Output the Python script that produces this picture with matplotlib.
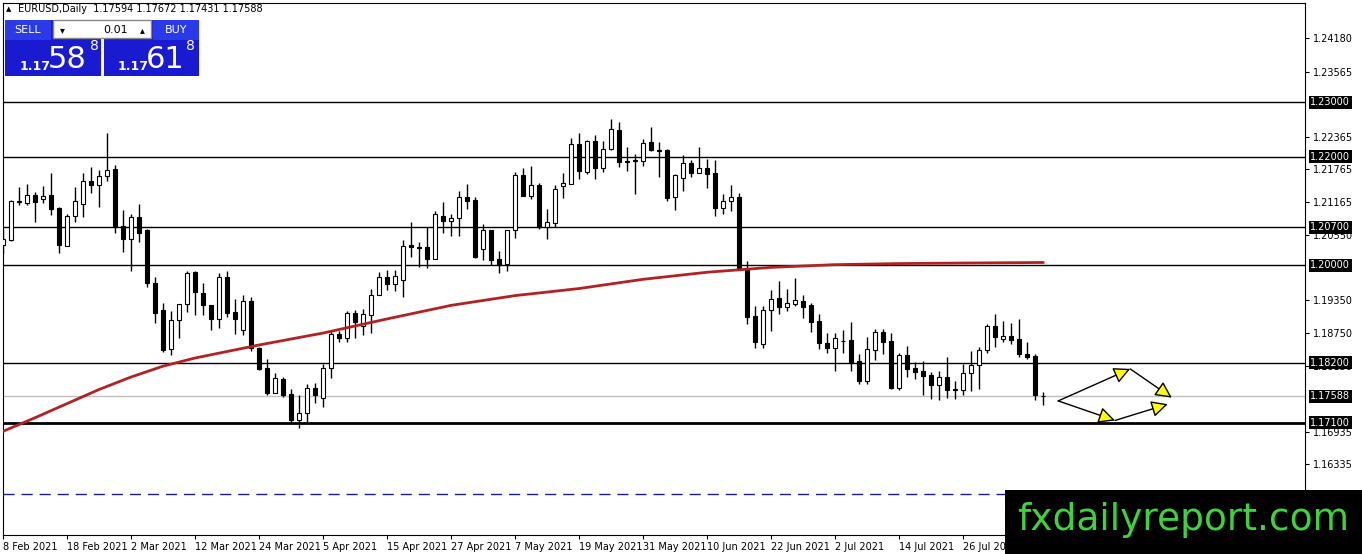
import numpy as np
import pandas as pd
import matplotlib
matplotlib.use("Agg")
import matplotlib.pyplot as plt
from matplotlib.patches import Rectangle

# daily EURUSD
opens = [1.2038, 1.2047, 1.2117, 1.2115, 1.2130, 1.2122, 1.2130, 1.2106, 1.2036, 1.2091,
         1.2113, 1.2155, 1.2148, 1.2164, 1.2177, 1.2073, 1.2049, 1.2089, 1.2064, 1.1968,
         1.1917, 1.1846, 1.1899, 1.1928, 1.1987, 1.1948, 1.1926, 1.1901, 1.1979, 1.1913,
         1.1880, 1.1934, 1.1848, 1.1811, 1.1765, 1.1791, 1.1763, 1.1714, 1.1728, 1.1774,
         1.1756, 1.1811, 1.1873, 1.1866, 1.1912, 1.1888, 1.1908, 1.1946, 1.1978, 1.1965,
         1.1972, 1.2038, 1.2033, 1.2034, 1.2012, 1.2091, 1.2082, 1.2087, 1.2126, 1.2121,
         1.2029, 1.2064, 1.2012, 1.2003, 1.2064, 1.2166, 1.2128, 1.2148, 1.2071, 1.2078,
         1.2146, 1.2150, 1.2223, 1.2172, 1.2229, 1.2179, 1.2214, 1.2249, 1.2192, 1.2192,
         1.2192, 1.2227, 1.2212, 1.2212, 1.2126, 1.2161, 1.2188, 1.2170, 1.2179, 1.2170,
         1.2106, 1.2119, 1.2126, 1.1992, 1.1906, 1.1855, 1.1917, 1.1939, 1.1923, 1.1928,
         1.1934, 1.1926, 1.1897, 1.1857, 1.1848, 1.1860, 1.1862, 1.1824, 1.1787, 1.1844,
         1.1877, 1.1860, 1.1774, 1.1835, 1.1811, 1.1805, 1.1798, 1.1780, 1.1794, 1.1771,
         1.1771, 1.1802, 1.1816, 1.1844, 1.1888, 1.1864, 1.1870, 1.1864, 1.1837, 1.1833,
         1.17594]
highs = [1.2066, 1.2121, 1.2144, 1.2150, 1.2135, 1.2146, 1.2170, 1.2108, 1.2095, 1.2144,
         1.2170, 1.2181, 1.2175, 1.2243, 1.2185, 1.2102, 1.2095, 1.2113, 1.2067, 1.1978,
         1.1930, 1.1915, 1.1929, 1.1990, 1.1989, 1.1967, 1.1927, 1.1985, 1.1989, 1.1937,
         1.1946, 1.1941, 1.1849, 1.1827, 1.1802, 1.1794, 1.1772, 1.1760, 1.1782, 1.1783,
         1.1818, 1.1879, 1.1879, 1.1915, 1.1917, 1.1919, 1.1956, 1.1987, 1.1992, 1.1992,
         1.2047, 1.2080, 1.2043, 1.2071, 1.2100, 1.2117, 1.2095, 1.2137, 1.2150, 1.2126,
         1.2076, 1.2065, 1.2027, 1.2065, 1.2172, 1.2179, 1.2183, 1.2152, 1.2104, 1.2148,
         1.2170, 1.2234, 1.2243, 1.2230, 1.2240, 1.2229, 1.2269, 1.2263, 1.2218, 1.2205,
         1.2232, 1.2254, 1.2227, 1.2214, 1.2168, 1.2203, 1.2194, 1.2218, 1.2196, 1.2194,
         1.2131, 1.2148, 1.2133, 1.2007, 1.1924, 1.1924, 1.1954, 1.1970, 1.1956, 1.1976,
         1.1945, 1.1930, 1.1910, 1.1875, 1.1875, 1.1880, 1.1895, 1.1837, 1.1868, 1.1882,
         1.1882, 1.1875, 1.1838, 1.1851, 1.1822, 1.1824, 1.1804, 1.1805, 1.1831, 1.1787,
         1.1818, 1.1842, 1.1849, 1.1891, 1.1910, 1.1897, 1.1893, 1.1901, 1.1858, 1.1837,
         1.17672]
lows = [1.2020, 1.2045, 1.2110, 1.2111, 1.2080, 1.2115, 1.2093, 1.2022, 1.2035, 1.2080,
        1.2089, 1.2133, 1.2108, 1.2155, 1.2060, 1.2025, 1.1990, 1.2042, 1.1959, 1.1893,
        1.1840, 1.1835, 1.1866, 1.1913, 1.1908, 1.1908, 1.1880, 1.1884, 1.1904, 1.1873,
        1.1871, 1.1842, 1.1807, 1.1760, 1.1764, 1.1758, 1.1710, 1.1701, 1.1710, 1.1747,
        1.1738, 1.1793, 1.1858, 1.1858, 1.1866, 1.1871, 1.1875, 1.1945, 1.1954, 1.1952,
        1.1941, 1.2016, 1.1996, 1.1994, 1.2011, 1.2060, 1.2054, 1.2054, 1.2104, 1.2014,
        1.2010, 1.2000, 1.1985, 1.1990, 1.2051, 1.2127, 1.2122, 1.2066, 1.2049, 1.2071,
        1.2124, 1.2149, 1.2159, 1.2168, 1.2159, 1.2172, 1.2213, 1.2181, 1.2174, 1.2131,
        1.2183, 1.2211, 1.2163, 1.2119, 1.2102, 1.2137, 1.2163, 1.2169, 1.2142, 1.2091,
        1.2095, 1.2100, 1.1991, 1.1891, 1.1848, 1.1848, 1.1879, 1.1910, 1.1915, 1.1924,
        1.1902, 1.1877, 1.1846, 1.1838, 1.1805, 1.1838, 1.1805, 1.1782, 1.1782, 1.1826,
        1.1837, 1.1772, 1.1771, 1.1794, 1.1791, 1.1761, 1.1754, 1.1752, 1.1756, 1.1754,
        1.1761, 1.1769, 1.1772, 1.1838, 1.1849, 1.1858, 1.1855, 1.1831, 1.1827, 1.1752,
        1.17431]
closes = [1.2049, 1.2119, 1.2118, 1.2130, 1.2117, 1.2128, 1.2104, 1.2038, 1.2091, 1.2119,
          1.2155, 1.2148, 1.2164, 1.2175, 1.2073, 1.2049, 1.2089, 1.2060, 1.1967, 1.1912,
          1.1844, 1.1899, 1.1928, 1.1985, 1.1950, 1.1926, 1.1901, 1.1979, 1.1912, 1.1901,
          1.1934, 1.1848, 1.1809, 1.1765, 1.1793, 1.1761, 1.1714, 1.1728, 1.1774, 1.1760,
          1.1811, 1.1873, 1.1866, 1.1912, 1.1895, 1.1910, 1.1946, 1.1978, 1.1965, 1.1981,
          1.2036, 1.2033, 1.2032, 1.2012, 1.2095, 1.2082, 1.2087, 1.2126, 1.2119, 1.2016,
          1.2064, 1.2010, 1.2001, 1.2064, 1.2166, 1.2128, 1.2148, 1.2071, 1.2080, 1.2141,
          1.2152, 1.2223, 1.2174, 1.2229, 1.2179, 1.2214, 1.2251, 1.2190, 1.2191, 1.2193,
          1.2225, 1.2212, 1.2210, 1.2124, 1.2166, 1.2188, 1.2170, 1.2179, 1.2168, 1.2106,
          1.2119, 1.2126, 1.1992, 1.1904, 1.1858, 1.1917, 1.1937, 1.1923, 1.1930, 1.1935,
          1.1923, 1.1895, 1.1857, 1.1848, 1.1866, 1.1861, 1.1822, 1.1787, 1.1846, 1.1877,
          1.1858, 1.1774, 1.1835, 1.1809, 1.1804, 1.1796, 1.1780, 1.1794, 1.1771, 1.1772,
          1.1802, 1.1816, 1.1844, 1.1888, 1.1868, 1.1870, 1.1862, 1.1837, 1.1831, 1.1760,
          1.17588]

# moving average, sampled along the red line
ma_bars = [0, 4, 8, 12, 16, 20, 24, 32, 40, 48, 56, 64, 72, 80, 88, 96, 104, 112, 120, 130]
ma_vals = [1.1694, 1.1719, 1.1745, 1.1771, 1.1794, 1.1814, 1.1829, 1.1853, 1.1875, 1.1901,
           1.1926, 1.1944, 1.1957, 1.1974, 1.1987, 1.1996, 1.2001, 1.2003, 1.2004, 1.2005]

levels = [1.2300, 1.2200, 1.2070, 1.2000, 1.1820]
support = 1.1710
last_price = 1.17588
dash_level = 1.1578
tick_vals = [1.24180, 1.23565, 1.22365, 1.21765, 1.21165, 1.20550, 1.19350, 1.18750,
             1.18150, 1.16935, 1.16335]

dates = pd.bdate_range("2021-02-08", periods=len(opens))

W, H = 1362, 554
fig = plt.figure(figsize=(W / 100, H / 100), dpi=100)
ax = fig.add_axes([3 / W, 19 / H, 1302 / W, 532 / H])
ax.set_xlim(0, 162.75)
ax.set_ylim(1.1503, 1.2483)

for i in range(len(opens)):
    o, h, l, c = opens[i], highs[i], lows[i], closes[i]
    ax.vlines(i, l, h, color="black", lw=1, zorder=3)
    lo, hi = min(o, c), max(o, c)
    ht = max(hi - lo, 0.00005)
    fc = "white" if c >= o else "black"
    ax.add_patch(Rectangle((i - 0.3, lo), 0.6, ht, facecolor=fc, edgecolor="black",
                           lw=0.8, zorder=4))

ax.plot(ma_bars, ma_vals, color="#b22222", lw=2, zorder=5)

for lv in levels:
    ax.axhline(lv, color="black", lw=1, zorder=1)
ax.axhline(support, color="black", lw=2, zorder=1)
ax.axhline(last_price, color="#c0c0c0", lw=1, zorder=1)
ax.axhline(dash_level, color="#1c1c8c", lw=1, ls=(0, (8, 5)), zorder=1)

# forecast arrows
arrow = dict(arrowstyle="-|>,head_length=1.0,head_width=0.5", fc="yellow", ec="black",
             lw=1, shrinkA=0, shrinkB=0)
ax.annotate("", xy=(140.9, 1.1809), xytext=(131.9, 1.1750), arrowprops=arrow)
ax.annotate("", xy=(146.1, 1.1756), xytext=(140.9, 1.1809), arrowprops=arrow)
ax.annotate("", xy=(139.0, 1.1714), xytext=(131.9, 1.1750), arrowprops=arrow)
ax.annotate("", xy=(145.6, 1.1744), xytext=(139.0, 1.1714), arrowprops=arrow)

ax.yaxis.tick_right()
ax.set_yticks(tick_vals)
ax.set_yticklabels([f"{v:.5f}" for v in tick_vals], fontsize=7)
ax.tick_params(axis="y", length=3, pad=3)
for lv in levels + [support, last_price]:
    ax.text(1.004, lv, f"{lv:.5f}", transform=ax.get_yaxis_transform(), fontsize=7,
            color="white", va="center", ha="left",
            bbox=dict(boxstyle="square,pad=0.15", fc="black", ec="none"), zorder=10)

ticks = list(range(0, len(opens), 8))
ax.set_xticks(ticks)
ax.set_xticklabels([f"{dates[i].day} {dates[i]:%b %Y}" for i in ticks], fontsize=7, ha="left")
ax.tick_params(axis="x", length=3, pad=2)

fig.text(18 / W, 1 - 9 / H, "EURUSD,Daily  1.17594 1.17672 1.17431 1.17588", fontsize=7,
         va="center")
fig.text(6 / W, 1 - 9 / H, "\u25b2", fontsize=5, va="center")

# trade panel
def box(x0, y0, w, h, fc, ec="none"):
    fig.patches.append(Rectangle((x0 / W, 1 - (y0 + h) / H), w / W, h / H, facecolor=fc,
                                 edgecolor=ec, transform=fig.transFigure, zorder=20))

box(5, 20, 96, 56, "#1a1ad0")
box(104, 20, 95, 56, "#1a1ad0")
box(5, 20, 46, 20, "#2a3ae8")
box(153, 20, 46, 20, "#2a3ae8")
box(53, 20, 98, 18, "white", "#888888")
fig.text(28 / W, 1 - 30 / H, "SELL", color="white", fontsize=8, ha="center", va="center", zorder=30)
fig.text(176 / W, 1 - 30 / H, "BUY", color="white", fontsize=8, ha="center", va="center", zorder=30)
fig.text(128 / W, 1 - 30 / H, "0.01", fontsize=8, ha="right", va="center", zorder=30)
fig.text(62 / W, 1 - 30 / H, "\u25be", fontsize=7, ha="center", va="center", zorder=30)
fig.text(142 / W, 1 - 30 / H, "\u25b4", fontsize=7, ha="center", va="center", zorder=30)
fig.text(20 / W, 1 - 66 / H, "1.17", color="white", fontsize=9, fontweight="bold", va="center", zorder=30)
fig.text(48 / W, 1 - 60 / H, "58", color="white", fontsize=22, va="center", zorder=30)
fig.text(90 / W, 1 - 46 / H, "8", color="white", fontsize=10, va="center", zorder=30)
fig.text(118 / W, 1 - 66 / H, "1.17", color="white", fontsize=9, fontweight="bold", va="center", zorder=30)
fig.text(146 / W, 1 - 60 / H, "61", color="white", fontsize=22, va="center", zorder=30)
fig.text(186 / W, 1 - 46 / H, "8", color="white", fontsize=10, va="center", zorder=30)

# logo
box(1005, 490, 357, 64, "black")
fig.text(1183 / W, 1 - 520 / H, "fxdailyreport.com", color="#3ed23e", fontsize=27,
         ha="center", va="center", zorder=30)

fig.savefig("out.png", dpi=100)
